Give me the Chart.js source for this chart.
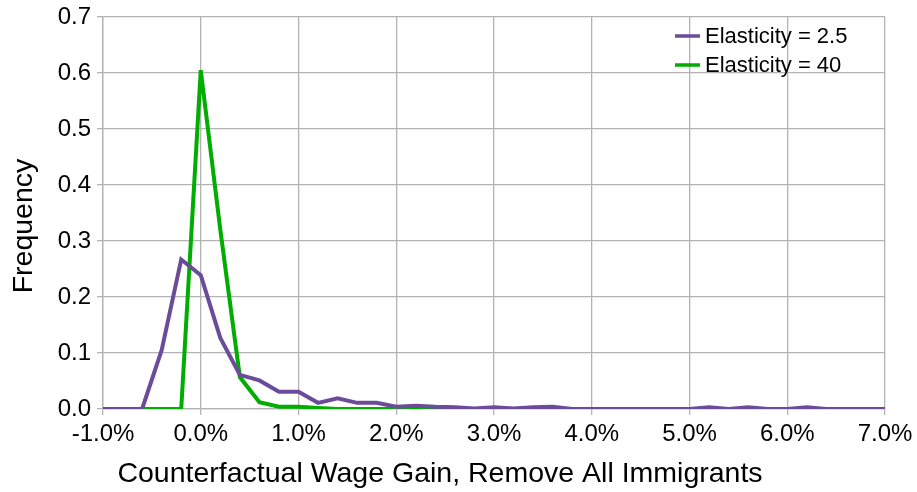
<!DOCTYPE html>
<html>
<head>
<meta charset="utf-8">
<script src="https://cdn.jsdelivr.net/npm/chart.js@4"></script>
<style>
  html, body { margin: 0; padding: 0; background: #fff; }
  #wrap { width: 917px; height: 492px; }
</style>
</head>
<body>
<div id="wrap"><canvas id="wagechart"></canvas></div>
<script>
// wage gain bins (percent), every 0.2
const wageGain = [
  -1.0, -0.8, -0.6, -0.4, -0.2, 0.0, 0.2, 0.4, 0.6, 0.8,
  1.0, 1.2, 1.4, 1.6, 1.8, 2.0, 2.2, 2.4, 2.6, 2.8,
  3.0, 3.2, 3.4, 3.6, 3.8, 4.0, 4.2, 4.4, 4.6, 4.8,
  5.0, 5.2, 5.4, 5.6, 5.8, 6.0, 6.2, 6.4, 6.6, 6.8, 7.0
];

const freqElasticity25 = [
  0, 0, 0, 0.105, 0.267, 0.239, 0.127, 0.061, 0.051, 0.031,
  0.031, 0.011, 0.019, 0.011, 0.011, 0.004, 0.006, 0.004, 0.003, 0.001,
  0.003, 0.001, 0.003, 0.004, 0, 0, 0, 0, 0, 0,
  0, 0.003, 0, 0.003, 0, 0, 0.003, 0, 0, 0, 0
];

const freqElasticity40 = [
  0, 0, 0, 0, 0, 0.605, 0.32, 0.057, 0.012, 0.004,
  0.004, 0.002, 0, 0, 0, 0, 0, 0, 0, 0,
  0, 0, 0, 0, 0, 0, 0, 0, 0, 0,
  0, 0, 0, 0, 0, 0, 0, 0, 0, 0, 0
];

const seriesLabels = ["Elasticity = 2.5", "Elasticity = 40"];
const seriesColors = ["#6b4c9a", "#00ad00"];
const xTitle = "Counterfactual Wage Gain, Remove All Immigrants";
const yTitle = "Frequency";

const toPoints = (ys) => ys.map((y, i) => ({ x: wageGain[i], y: y }));

const gridColor = "#b3b3b3";
const fontFamily = "'Liberation Sans', Arial, sans-serif";

// legend inside the plot (top right) and the two axis titles
const extras = {
  id: "extras",
  afterDraw(chart) {
    const ctx = chart.ctx;
    const area = chart.chartArea;
    ctx.save();
    ctx.font = "22px " + fontFamily;
    ctx.textBaseline = "middle";
    ctx.fillStyle = "#000";
    chart.data.datasets.forEach((ds, i) => {
      const y = area.top + 19 + i * 29;
      const x0 = area.left + 572;
      ctx.strokeStyle = ds.borderColor;
      ctx.lineWidth = 3.5;
      ctx.beginPath();
      ctx.moveTo(x0, y);
      ctx.lineTo(x0 + 25, y);
      ctx.stroke();
      ctx.fillText(ds.label, x0 + 30, y + 1);
    });

    ctx.font = "28.5px " + fontFamily;
    ctx.textBaseline = "alphabetic";
    ctx.textAlign = "center";
    ctx.fillText(xTitle, 440, 482);

    ctx.translate(32, 226);
    ctx.rotate(-Math.PI / 2);
    ctx.fillText(yTitle, 0, 0);
    ctx.restore();
  },
};

const ctx = document.getElementById("wagechart").getContext("2d");

new Chart(ctx, {
  type: "line",
  data: {
    datasets: [
      {
        label: seriesLabels[0],
        data: toPoints(freqElasticity25),
        borderColor: seriesColors[0],
        backgroundColor: seriesColors[0],
        borderWidth: 4,
        pointRadius: 0,
        tension: 0,
      },
      {
        label: seriesLabels[1],
        data: toPoints(freqElasticity40),
        borderColor: seriesColors[1],
        backgroundColor: seriesColors[1],
        borderWidth: 4,
        pointRadius: 0,
        tension: 0,
      },
    ],
  },
  options: {
    responsive: true,
    maintainAspectRatio: false,
    animation: false,
    layout: { padding: { top: 17, right: 32, left: 0, bottom: 0 } },
    plugins: {
      legend: { display: false },
      tooltip: { enabled: false },
    },
    scales: {
      x: {
        type: "linear",
        min: -1,
        max: 7,
        ticks: {
          stepSize: 1,
          color: "#000",
          padding: 5,
          maxRotation: 0,
          font: { family: fontFamily, size: 24 },
          callback: (v) => v.toFixed(1) + "%",
        },
        grid: { color: gridColor, lineWidth: 1.3, tickLength: 6 },
        border: { color: gridColor, width: 1.3 },
        afterFit(scale) {
          scale.height = 83;
          scale.paddingLeft = 0;
          scale.paddingRight = 0;
        },
      },
      y: {
        min: 0,
        max: 0.7,
        ticks: {
          stepSize: 0.1,
          color: "#000",
          padding: 6,
          font: { family: fontFamily, size: 24 },
          callback: (v) => v.toFixed(1),
        },
        grid: { color: gridColor, lineWidth: 1.3, tickLength: 6 },
        border: { color: gridColor, width: 1.3 },
        afterFit(scale) {
          scale.width = 103;
          scale.paddingTop = 0;
          scale.paddingBottom = 0;
        },
      },
    },
  },
  plugins: [extras],
});
</script>
</body>
</html>
